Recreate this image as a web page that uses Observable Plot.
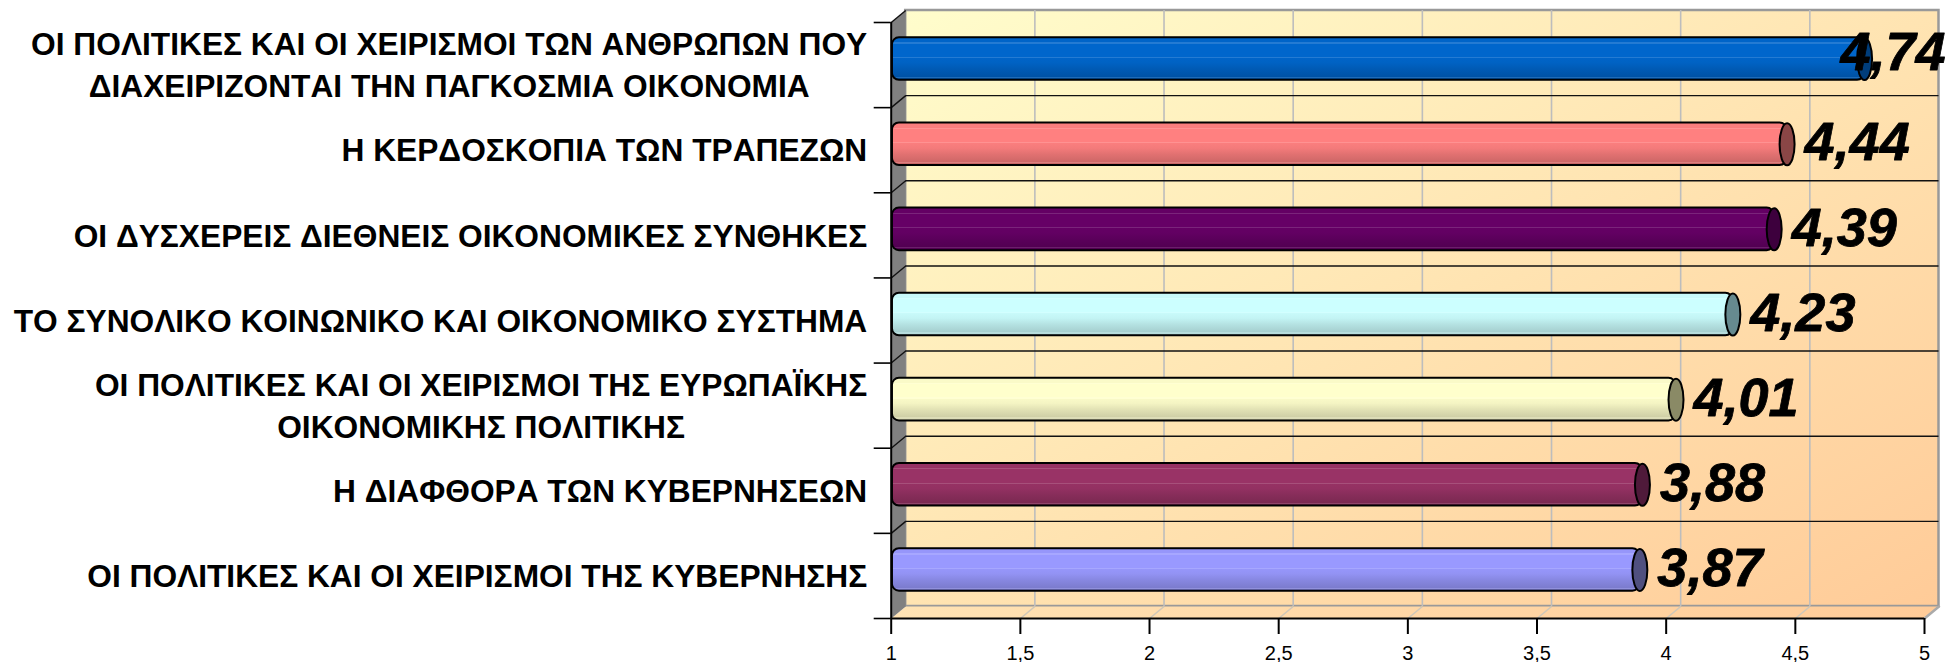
<!DOCTYPE html>
<html><head><meta charset="utf-8">
<style>html,body{margin:0;padding:0;background:#fff}svg{display:block}svg text{font-kerning:none}</style>
<script src="https://cdn.jsdelivr.net/npm/d3@7"></script>
<script src="https://cdn.jsdelivr.net/npm/@observablehq/plot@0.6"></script>
</head><body><div id="c"></div>
<script>
const firstLines = ["ΟΙ ΠΟΛΙΤΙΚΕΣ ΚΑΙ ΟΙ ΧΕΙΡΙΣΜΟΙ ΤΩΝ ΑΝΘΡΩΠΩΝ ΠΟΥ","Η ΚΕΡΔΟΣΚΟΠΙΑ ΤΩΝ ΤΡΑΠΕΖΩΝ","ΟΙ ΔΥΣΧΕΡΕΙΣ ΔΙΕΘΝΕΙΣ ΟΙΚΟΝΟΜΙΚΕΣ ΣΥΝΘΗΚΕΣ","ΤΟ ΣΥΝΟΛΙΚΟ ΚΟΙΝΩΝΙΚΟ ΚΑΙ ΟΙΚΟΝΟΜΙΚΟ ΣΥΣΤΗΜΑ","ΟΙ ΠΟΛΙΤΙΚΕΣ ΚΑΙ ΟΙ ΧΕΙΡΙΣΜΟΙ ΤΗΣ ΕΥΡΩΠΑΪΚΗΣ","Η ΔΙΑΦΘΟΡΑ ΤΩΝ ΚΥΒΕΡΝΗΣΕΩΝ","ΟΙ ΠΟΛΙΤΙΚΕΣ ΚΑΙ ΟΙ ΧΕΙΡΙΣΜΟΙ ΤΗΣ ΚΥΒΕΡΝΗΣΗΣ"];
const secondLines = ["ΔΙΑΧΕΙΡΙΖΟΝΤΑΙ ΤΗΝ ΠΑΓΚΟΣΜΙΑ ΟΙΚΟΝΟΜΙΑ","","","","ΟΙΚΟΝΟΜΙΚΗΣ ΠΟΛΙΤΙΚΗΣ","",""];
const values = [4.74,4.44,4.39,4.23,4.01,3.88,3.87];
const barColors = ["#0066CC","#FF8080","#660066","#CCFFFF","#FFFFCC","#993366","#9999FF"];
const capColors = ["#003D7A","#8A4646","#3D003D","#668A8F","#8A8A66","#4F1A3A","#50507F"];
const xTicks = [1,1.5,2,2.5,3,3.5,4,4.5,5];
const bandEdges = [0,1,2,3,4,5,6,7];

const W=1948,H=662,mL=890.7,mR=24,mT=22,mB=44;
const pxX=(W-mL-mR)/4, pxY=(H-mT-mB)/7;
const dX=14.5/pxX, dY=12/pxY;          // depth of the 3D box in data units
const barH=0.25;
const labelSize=31.7;
const ctx=document.createElement("canvas").getContext("2d");ctx.font=`bold ${labelSize}px 'Liberation Sans'`;ctx.fontKerning="none";
const tw=s=>ctx.measureText(s).width;
const comma=d=>String(d).replace(".",",");
const rows=values.map((v,i)=>({i,v,a:firstLines[i],b:secondLines[i],c:barColors[i],k:capColors[i]}));
const labelX=1-24/pxX;

function defs(){
  const d=d3.create("svg:defs");
  const wall=d.append("linearGradient").attr("id","wall").attr("x1",0).attr("y1",0).attr("x2",1).attr("y2",1);
  wall.append("stop").attr("offset",0).attr("stop-color","#FFFDCC");
  wall.append("stop").attr("offset",1).attr("stop-color","#FFCB98");
  const fl=d.append("linearGradient").attr("id","floor").attr("x1",0).attr("y1",0).attr("x2",1).attr("y2",0);
  fl.append("stop").attr("offset",0).attr("stop-color","#FFE3B4");
  fl.append("stop").attr("offset",1).attr("stop-color","#FFCB98");
  rows.forEach(r=>{
    const g=d.append("linearGradient").attr("id","bar"+r.i).attr("x1",0).attr("y1",0).attr("x2",0).attr("y2",1);
    const base=f=>d3.rgb(r.c).darker(f).formatHex();
    const lite=f=>d3.rgb(d3.interpolateRgb(r.c,"#fff")(0.14)).darker(f).formatHex();
    [[0,base(0.05)],[.12,base(0.05)],[.12,lite(0)],[.15,lite(0)],[.15,base(0)],[.46,base(0)],[.46,lite(0)],[.485,lite(0)],[.485,base(0.05)],
     [.6,base(0.12)],[.75,base(0.35)],[.93,base(0.6)],[.93,lite(0.4)],[.96,lite(0.4)],[.96,base(0.65)],[1,base(0.65)]]
    .forEach(([o,col])=>g.append("stop").attr("offset",o).attr("stop-color",col));
  });
  return d.node();
}
const capSymbol={draw(c){const rx=7.5,ry=21,k=.5523;
  c.moveTo(-rx,0);
  c.bezierCurveTo(-rx,-ry*k,-rx*k,-ry,0,-ry);
  c.bezierCurveTo(rx*k,-ry,rx,-ry*k,rx,0);
  c.bezierCurveTo(rx,ry*k,rx*k,ry,0,ry);
  c.bezierCurveTo(-rx*k,ry,-rx,ry*k,-rx,0);
  c.closePath();}};
const poly=(pts,opts)=>Plot.line(pts,{x:"0",y:"1",...opts});

const plot=Plot.plot({
  width:W,height:H,marginLeft:mL,marginRight:mR,marginTop:mT,marginBottom:mB,
  style:{background:"transparent",overflow:"visible"},
  x:{domain:[1,5]},y:{domain:[0,7],reverse:true},
  marks:[
    defs,
    Plot.rect([0],{x1:1+dX,x2:5+dX,y1:0-dY,y2:7-dY,fill:"url(#wall)",stroke:"#999",strokeWidth:2.5}),
    poly([[1,7],[1+dX,7-dY],[5+dX,7-dY],[5,7],[1,7]],{fill:"url(#floor)",stroke:"none"}),
    Plot.line([[5+dX,7-dY],[5,7]],{x:"0",y:"1",stroke:"#aaa",strokeWidth:2.5}),
    poly([[1,0],[1+dX,0-dY],[1+dX,7-dY],[1,7],[1,0]],{fill:"#808080",stroke:"none"}),
    Plot.ruleX(xTicks.slice(1,-1),{x:d=>d+dX,y1:0-dY,y2:7-dY,stroke:"#BDBDBD",strokeWidth:1.6}),
    Plot.link(xTicks.slice(1,-1),{x1:d=>d,y1:7,x2:d=>d+dX,y2:7-dY,stroke:"#CFC7B8",strokeWidth:1.6}),
    Plot.ruleY(bandEdges.slice(1,-1),{y:d=>d-dY,x1:1+dX,x2:5+dX,stroke:"#111",strokeWidth:1.4}),
    Plot.link(bandEdges.slice(0,-1),{x1:1,y1:d=>d,x2:1+dX,y2:d=>d-dY,stroke:"#111",strokeWidth:1.4}),
    ...rows.map(r=>Plot.rect([r],{x1:1+dX/2,x2:d=>d.v+dX/2,
      y1:d=>d.i+.5-dY/2-barH,y2:d=>d.i+.5-dY/2+barH,insetLeft:-6,rx:7,
      fill:`url(#bar${r.i})`,stroke:"#000",strokeWidth:2})),
    Plot.dot(rows,{x:d=>d.v+dX/2,y:d=>d.i+.5-dY/2,symbol:capSymbol,fill:d=>d.k,stroke:"#000",strokeWidth:2}),
    Plot.ruleX([1],{y1:0,y2:7,stroke:"#000",strokeWidth:2}),
    Plot.ruleY([7],{stroke:"#000",strokeWidth:2}),
    Plot.axisY({ticks:bandEdges,tickSize:17,tickFormat:()=>"",label:null,stroke:"#000",strokeWidth:1.6}),
    Plot.axisX({ticks:xTicks,tickFormat:comma,tickSize:16,tickPadding:11,label:null,fontSize:20,fontFamily:"Liberation Sans",fill:"#000",stroke:"#000",strokeWidth:2}),
    Plot.text(rows,{x:labelX,y:d=>d.i+.5-dY/2+7/pxY+(d.b?-21/pxY:0),text:"a",textAnchor:"end",fontFamily:"Liberation Sans",fontWeight:"bold",fontSize:labelSize,fill:"#000"}),
    Plot.text(rows.filter(r=>r.b),{x:d=>labelX-((tw(d.a)-tw(d.b))/2)/pxX,y:d=>d.i+.5-dY/2+28/pxY,text:"b",textAnchor:"end",fontFamily:"Liberation Sans",fontWeight:"bold",fontSize:labelSize,fill:"#000"}),
    Plot.text(rows,{x:d=>Math.min(d.v+dX/2+17.5/pxX,4.675),y:d=>d.i+.5-dY/2-1/pxY-(d.v+dX/2+17.5/pxX>4.675?5/pxY:0),text:d=>comma(d.v),textAnchor:"start",fontFamily:"Liberation Sans",fontWeight:"bold",fontStyle:"italic",fontSize:54,fill:"#000",stroke:"#000",strokeWidth:.8})
  ]
});
document.getElementById("c").appendChild(plot);
</script></body></html>
